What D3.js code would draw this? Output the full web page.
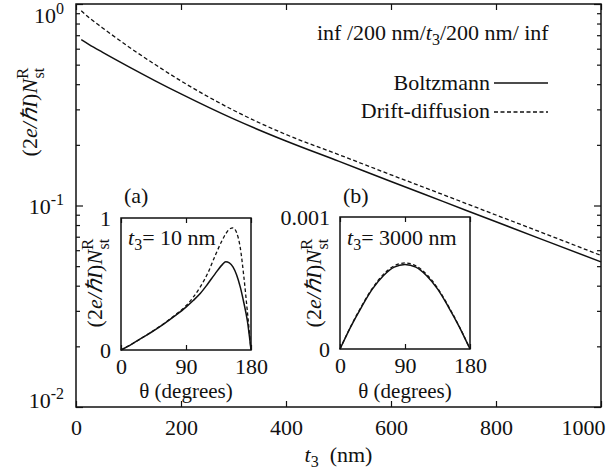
<!DOCTYPE html>
<html><head><meta charset="utf-8">
<script src="https://cdn.jsdelivr.net/npm/d3@7"></script>
</head>
<body style="margin:0;background:#fff">
<svg id="c" width="609" height="472"></svg>
<script>
// ---------- data ----------
const mainT      = [10, 25, 50, 100, 150, 200, 300, 400, 500, 600, 700, 800, 900, 1000];
const mainBoltz  = [0.665, 0.629, 0.577, 0.489, 0.417, 0.358, 0.269, 0.209, 0.166, 0.1315, 0.1045, 0.083, 0.066, 0.0525];
const mainDrift  = [0.925, 0.855, 0.763, 0.614, 0.502, 0.415, 0.297, 0.225, 0.179, 0.142, 0.113, 0.0897, 0.0713, 0.0565];
const xTicks     = [0, 200, 400, 600, 800, 1000];
const yMajor     = [0.01, 0.1, 1];
const yMajorLbl  = ["-2", "-1", "0"];
const yMinor     = [0.02,0.03,0.04,0.05,0.06,0.07,0.08,0.09,0.2,0.3,0.4,0.5,0.6,0.7,0.8,0.9];

const thetaA  = [0, 15, 30, 45, 60, 75, 90, 100, 110, 120, 130, 140, 145, 150, 155, 160, 165, 170, 175, 180];
const boltzA  = [0, 0.045, 0.095, 0.145, 0.2, 0.26, 0.325, 0.375, 0.43, 0.5, 0.575, 0.645, 0.668, 0.66, 0.63, 0.57, 0.48, 0.36, 0.22, 0];
const driftA  = [0, 0.045, 0.095, 0.147, 0.203, 0.265, 0.335, 0.40, 0.48, 0.58, 0.71, 0.83, 0.88, 0.915, 0.925, 0.89, 0.78, 0.56, 0.29, 0];

const thetaB  = [0, 15, 30, 45, 60, 75, 90, 105, 120, 135, 150, 165, 180];
const boltzB  = [0, 0.00017, 0.00032, 0.000455, 0.000555, 0.00062, 0.00064, 0.00062, 0.000555, 0.000455, 0.00032, 0.00017, 0];
const driftB  = [0, 0.000172, 0.000326, 0.000462, 0.000565, 0.00063, 0.000652, 0.00063, 0.000565, 0.000462, 0.000326, 0.000172, 0];

const insetXTicks = [0, 90, 180];

// ---------- drawing ----------
const svg = d3.select("#c");
const FS = 22;
const L = 76, R = 601, T = 4, B = 407;
const x = d3.scaleLinear().domain([0, 1000]).range([L, R]);
const y = d3.scaleLog().domain([0.01, 1]).range([B, T]);

function txt(sel){ return sel.style("font-family", '"Liberation Serif"').style("fill","#111"); }
function cleanAxis(g){ g.attr("font-family",null); g.select(".domain").remove(); g.selectAll("line").attr("stroke","#111").attr("stroke-width",1.2); }

// main ticks
svg.append("g").attr("transform",`translate(0,${B})`)
  .call(d3.axisBottom(x).tickValues(xTicks).tickSize(-6).tickPadding(0).tickFormat(d3.format("d")))
  .call(cleanAxis)
  .call(g=>txt(g.selectAll("text")).attr("font-size",FS).attr("dy",null).attr("y",28)
        .attr("text-anchor",(d)=> d===1000 ? "end":"middle")
        .attr("x",(d)=> d===1000 ? 4 : 0));
svg.append("g").attr("transform",`translate(0,${T})`)
  .call(d3.axisTop(x).tickValues(xTicks).tickSize(-6).tickFormat("")).call(cleanAxis);
svg.append("g").attr("transform",`translate(${L},0)`)
  .call(d3.axisLeft(y).tickValues(yMajor).tickSize(-7).tickFormat("")).call(cleanAxis);
svg.append("g").attr("transform",`translate(${L},0)`)
  .call(d3.axisLeft(y).tickValues(yMinor).tickSize(-4).tickFormat("")).call(cleanAxis);
svg.append("g").attr("transform",`translate(${R},0)`)
  .call(d3.axisRight(y).tickValues(yMajor).tickSize(-7).tickFormat("")).call(cleanAxis);
svg.append("g").attr("transform",`translate(${R},0)`)
  .call(d3.axisRight(y).tickValues(yMinor).tickSize(-4).tickFormat("")).call(cleanAxis);

// y tick labels 10^n
yMajor.forEach((v,i)=>{
  const by = Math.min(Math.max(y(v)+8, 23), 408);
  const t = txt(svg.append("text")).attr("x",64).attr("y",by).attr("text-anchor","end").attr("font-size",FS);
  t.append("tspan").text("10");
  t.append("tspan").attr("font-size",16).attr("dy",-9).text(yMajorLbl[i]);
});

// frame
svg.append("rect").attr("x",L).attr("y",T).attr("width",R-L).attr("height",B-T)
  .attr("fill","none").attr("stroke","#111").attr("stroke-width",1.5);

// main curves
const lineMain = (vals)=> d3.line().x((d,i)=>x(mainT[i])).y(d=>y(d)).curve(d3.curveMonotoneX)(vals);
svg.append("path").attr("d",lineMain(mainBoltz)).attr("fill","none").attr("stroke","#111").attr("stroke-width",1.5);
svg.append("path").attr("d",lineMain(mainDrift)).attr("fill","none").attr("stroke","#111").attr("stroke-width",1.3).attr("stroke-dasharray","4,2.5");

// y label
function yLabel(cx, cy){
  const t = txt(svg.append("text")).attr("transform",`translate(${cx},${cy}) rotate(-90)`)
    .attr("text-anchor","middle").attr("font-size",FS);
  t.append("tspan").text("(2");
  t.append("tspan").attr("font-style","italic").text("e/ℏI");
  t.append("tspan").text(")");
  t.append("tspan").attr("font-style","italic").text("N");
  t.append("tspan").attr("font-size",17).attr("dy",-9).text("R");
  t.append("tspan").attr("font-size",16).attr("dx",-11).attr("dy",16).text("st");
  return t;
}
yLabel(37, 112);

// x label
{
  const t = txt(svg.append("text")).attr("x",(L+R)/2).attr("y",462).attr("text-anchor","middle").attr("font-size",FS);
  t.append("tspan").attr("font-style","italic").text("t");
  t.append("tspan").attr("font-size",16).attr("dy",5).text("3");
  t.append("tspan").attr("dy",-5).text("\u00a0 (nm)");
}

// header
{
  const t = txt(svg.append("text")).attr("x",317).attr("y",40).attr("font-size",FS);
  t.append("tspan").text("inf /200 nm/");
  t.append("tspan").attr("font-style","italic").text("t");
  t.append("tspan").attr("font-size",16).attr("dy",5).text("3");
  t.append("tspan").attr("dy",-5).text("/200 nm/ inf");
}

// legend
txt(svg.append("text")).attr("x",490).attr("y",90).attr("text-anchor","end").attr("font-size",FS).text("Boltzmann");
txt(svg.append("text")).attr("x",490).attr("y",118).attr("text-anchor","end").attr("font-size",FS).text("Drift-diffusion");
svg.append("line").attr("x1",494).attr("x2",548).attr("y1",83).attr("y2",83).attr("stroke","#111").attr("stroke-width",1.5);
svg.append("line").attr("x1",494).attr("x2",548).attr("y1",112).attr("y2",112).attr("stroke","#111").attr("stroke-width",1.3).attr("stroke-dasharray","4,2.5");

// insets
function inset(cfg){
  const xs = d3.scaleLinear().domain([0,180]).range([cfg.l, cfg.r]);
  const ys = d3.scaleLinear().domain([0, cfg.ymax]).range([cfg.b, cfg.t]);
  svg.append("rect").attr("x",cfg.l).attr("y",cfg.t).attr("width",cfg.r-cfg.l).attr("height",cfg.b-cfg.t)
    .attr("fill","#fff").attr("stroke","#111").attr("stroke-width",1.5);
  svg.append("g").attr("transform",`translate(0,${cfg.b})`)
    .call(d3.axisBottom(xs).tickValues(insetXTicks).tickSize(-5).tickPadding(0))
    .call(cleanAxis)
    .call(g=>txt(g.selectAll("text")).attr("font-size",FS).attr("dy",null).attr("y",24));
  svg.append("g").attr("transform",`translate(0,${cfg.t})`)
    .call(d3.axisTop(xs).tickValues(insetXTicks).tickSize(-5).tickFormat("")).call(cleanAxis);
  svg.append("g").attr("transform",`translate(${cfg.l},0)`)
    .call(d3.axisLeft(ys).tickValues([0, cfg.ymax]).tickSize(0).tickPadding(10).tickFormat((d,i)=>cfg.ylabels[i]))
    .call(cleanAxis)
    .call(g=>txt(g.selectAll("text")).attr("font-size",FS)
          .attr("dy",(d)=> d===0 ? "0.32em" : "0.36em"));
  const ln = (th, vals)=> d3.line().x((d,i)=>xs(th[i])).y(d=>ys(d)).curve(d3.curveMonotoneX)(vals);
  svg.append("path").attr("d",ln(cfg.th,cfg.s)).attr("fill","none").attr("stroke","#111").attr("stroke-width",1.5);
  svg.append("path").attr("d",ln(cfg.th,cfg.d)).attr("fill","none").attr("stroke","#111").attr("stroke-width",1.3).attr("stroke-dasharray","3.5,2.5");
  // theta label
  txt(svg.append("text")).attr("x",(cfg.l+cfg.r)/2).attr("y",398).attr("text-anchor","middle").attr("font-size",21).text("θ (degrees)");
  // panel letter
  txt(svg.append("text")).attr("x",cfg.l+3).attr("y",203).attr("font-size",FS).text(cfg.letter);
  // t3 text
  const tt = txt(svg.append("text")).attr("x",cfg.l+7).attr("y",245).attr("font-size",FS);
  tt.append("tspan").attr("font-style","italic").text("t");
  tt.append("tspan").attr("font-size",16).attr("dy",5).text("3");
  tt.append("tspan").attr("dy",-5).text("= " + cfg.tlabel);
  yLabel(cfg.l-19, 283);
}
inset({l:121, r:251, t:218, b:350, ymax:1, ylabels:["0","1"], th:thetaA, s:boltzA, d:driftA, letter:"(a)", tlabel:"10 nm"});
inset({l:340, r:470, t:217, b:349, ymax:0.001, ylabels:["0","0.001"], th:thetaB, s:boltzB, d:driftB, letter:"(b)", tlabel:"3000 nm"});
</script>
</body></html>
